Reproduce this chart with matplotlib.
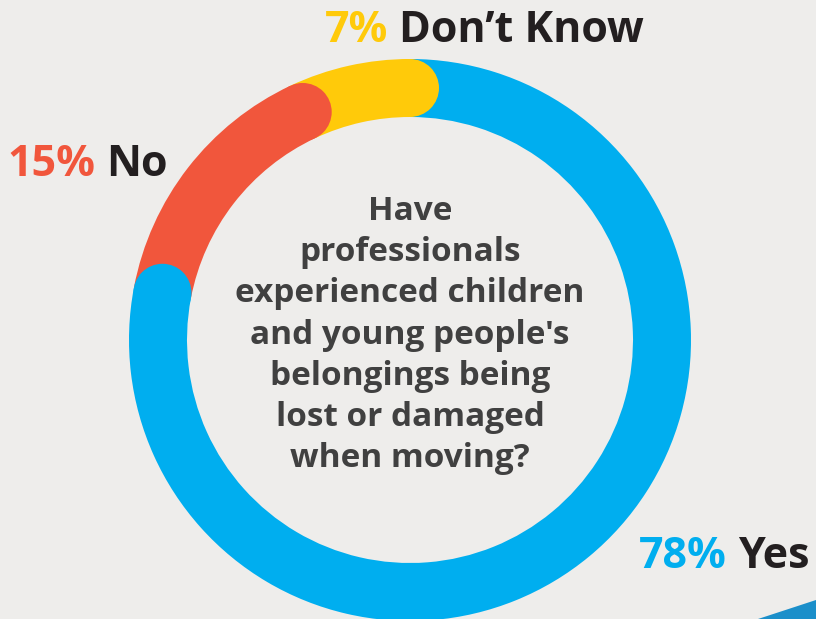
import matplotlib
matplotlib.use('Agg')
import matplotlib.pyplot as plt
import numpy as np
from matplotlib.patches import Circle, Polygon

# survey answers, share of respondents (%)
answers = ['Yes', 'No', "Don\u2019t Know"]
shares = [78, 15, 7]
colors = ['#00AEEF', '#F1563C', '#FFCA0A']
question = ("Have\nprofessionals\nexperienced children\nand young people's\n"
            "belongings being\nlost or damaged\nwhen moving?")

bg = '#EEEDEB'
dark = '#231F20'
H = 619
cx, cy = 410, H - 340      # ring centre in pixels (y from bottom)
r_out, ring = 281, 58      # outer radius and ring thickness

fig = plt.figure(figsize=(8.16, 6.19), dpi=100, facecolor=bg)
ax = fig.add_axes([0, 0, 1, 1])
ax.set_facecolor(bg)

wedges, _ = ax.pie(shares, colors=colors, startangle=90, counterclock=False,
                   radius=r_out, center=(cx, cy),
                   wedgeprops=dict(width=ring, linewidth=0))

# rounded end of each segment sits on top of the next one
r_mid = r_out - ring / 2
caps = []
for w, c in zip(wedges, colors):
    ang = np.deg2rad(w.theta1)   # clockwise end of the segment
    caps.append(Circle((cx + r_mid * np.cos(ang), cy + r_mid * np.sin(ang)),
                       ring / 2, color=c, lw=0, zorder=3))
for cap in caps[1:] + caps[:1]:
    ax.add_patch(cap)

# corner decoration
ax.add_patch(Polygon([(758, 0), (816, 0), (816, 19)], closed=True,
                     color='#1B8FCA', lw=0, zorder=1))

ax.set_xlim(0, 816)
ax.set_ylim(0, H)
ax.set_aspect('equal')
ax.axis('off')

font = 'Open Sans'
ax.text(cx, H - 335, question, ha='center', va='center', fontsize=24,
        fontweight='bold', color='#404040', family=font, linespacing=1.33,
        zorder=5)

# outside labels: (x where number ends, y from top)
label_pos = [(727, 557), (95, 164), (388, 31)]
for name, s, c, (x, y) in zip(answers, shares, colors, label_pos):
    ax.text(x, H - y, f'{s}%', ha='right', va='center', fontsize=31,
            fontweight='bold', color=c, family=font, zorder=5)
    ax.text(x + 11, H - y, name, ha='left', va='center', fontsize=31,
            fontweight='bold', color=dark, family=font, zorder=5)

fig.savefig('out.png', dpi=100, facecolor=bg)
